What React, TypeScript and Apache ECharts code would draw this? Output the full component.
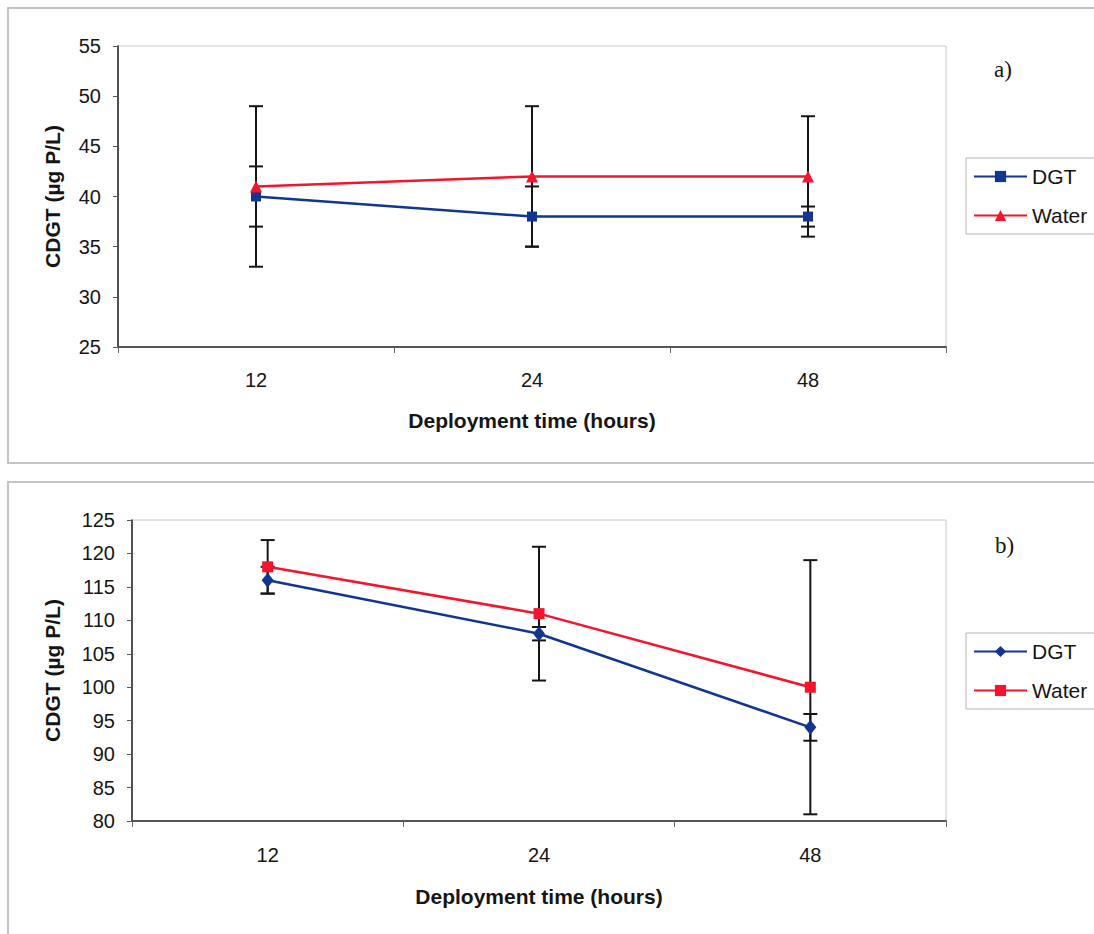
import React, { useEffect, useRef } from "react";
import * as echarts from "echarts";

const categories = ["12", "24", "48"];
const aDgt = [40, 38, 38];
const aDgtErr = [3, 3, 1];
const aWater = [41, 42, 42];
const aWaterErr = [8, 7, 6];
const bDgt = [116, 108, 94];
const bDgtErr = [2, 1, 2];
const bWater = [118, 111, 100];
const bWaterErr = [4, 10, 19];
const seriesNames = ["DGT", "Water"];
const yTitle = "CDGT (µg P/L)";
const xTitle = "Deployment time (hours)";

const NAVY = "#12358f";
const RED = "#f5142d";
const FONT = "'Liberation Sans', Arial, sans-serif";

function errData(vals: number[], errs: number[]) {
  return vals.map((v, i) => [i, v - errs[i], v + errs[i]]);
}

function errRender(params: any, api: any) {
  const i = api.value(0);
  const lo = api.coord([i, api.value(1)]);
  const hi = api.coord([i, api.value(2)]);
  const w = 7;
  const style = { stroke: "#151515", lineWidth: 2 };
  return {
    type: "group",
    children: [
      { type: "line", shape: { x1: lo[0], y1: lo[1], x2: hi[0], y2: hi[1] }, style },
      { type: "line", shape: { x1: lo[0] - w, y1: lo[1], x2: lo[0] + w, y2: lo[1] }, style },
      { type: "line", shape: { x1: hi[0] - w, y1: hi[1], x2: hi[0] + w, y2: hi[1] }, style },
    ],
  };
}

export default function App() {
  const ref = useRef<HTMLDivElement>(null);
  useEffect(() => {
    if (!ref.current) return;
    const chart = echarts.init(ref.current, null, { renderer: "svg" });
    const xAxisBase = (gridIndex: number, nameGap: number, labelMargin: number) => ({
      type: "category",
      gridIndex,
      data: categories,
      boundaryGap: true,
      name: xTitle,
      nameLocation: "middle",
      nameGap,
      nameTextStyle: { fontFamily: FONT, fontSize: 21, fontWeight: "bold", color: "#151515" },
      axisLine: { show: true, lineStyle: { color: "#555", width: 2 } },
      axisTick: { show: true, interval: 0, length: 6, lineStyle: { color: "#666", width: 1 } },
      axisLabel: { fontFamily: FONT, fontSize: 20, color: "#151515", margin: labelMargin },
      splitLine: { show: false },
    });
    const yAxisBase = (gridIndex: number, min: number, max: number, nameGap: number) => ({
      type: "value",
      gridIndex,
      min,
      max,
      interval: 5,
      name: yTitle,
      nameLocation: "middle",
      nameGap,
      nameRotate: 90,
      nameTextStyle: { fontFamily: FONT, fontSize: 21, fontWeight: "bold", color: "#151515" },
      axisLine: { show: true, lineStyle: { color: "#222", width: 1.5 } },
      axisTick: { show: true, length: 5, inside: false, lineStyle: { color: "#555", width: 1 } },
      axisLabel: { fontFamily: FONT, fontSize: 20, color: "#151515", margin: 17 },
      splitLine: { show: false },
    });
    const legendBase = (top: number) => ({
      orient: "vertical",
      left: 966,
      top,
      itemWidth: 53,
      itemHeight: 14,
      itemGap: 18,
      padding: [8, 12, 8, 7],
      borderColor: "#b4b4b4",
      borderWidth: 1,
      textStyle: { fontFamily: FONT, fontSize: 21, color: "#151515" },
    });
    const option: any = {
      animation: false,
      backgroundColor: "#fff",
      grid: [
        { left: 118, top: 46, width: 828, height: 301, show: true, borderColor: "#c8c8c8", borderWidth: 1, backgroundColor: "transparent" },
        { left: 132, top: 520, width: 814, height: 301, show: true, borderColor: "#c8c8c8", borderWidth: 1, backgroundColor: "transparent" },
      ],
      xAxis: [xAxisBase(0, 63, 23), xAxisBase(1, 65, 24)],
      yAxis: [yAxisBase(0, 25, 55, 55), yAxisBase(1, 80, 125, 69)],
      legend: [
        { ...legendBase(158), data: seriesNames.map((n) => ({ name: n })) },
        { ...legendBase(633), data: seriesNames.map((n) => ({ name: n + " " })) },
      ],
      graphic: [
        { type: "rect", shape: { x: 8, y: 8, width: 1200, height: 455 }, style: { fill: "none", stroke: "#c4c4c4", lineWidth: 2 }, z: -1 },
        { type: "rect", shape: { x: 8, y: 482, width: 1200, height: 500 }, style: { fill: "none", stroke: "#c4c4c4", lineWidth: 2 }, z: -1 },
        { type: "text", left: 994, top: 58, style: { text: "a)", font: "23px 'Liberation Serif', 'Times New Roman', serif", fill: "#151515" } },
        { type: "text", left: 995, top: 534, style: { text: "b)", font: "23px 'Liberation Serif', 'Times New Roman', serif", fill: "#151515" } },
      ],
      series: [
        { type: "custom", name: "errA1", xAxisIndex: 0, yAxisIndex: 0, renderItem: errRender, data: errData(aWater, aWaterErr), z: 1, silent: true },
        { type: "custom", name: "errA2", xAxisIndex: 0, yAxisIndex: 0, renderItem: errRender, data: errData(aDgt, aDgtErr), z: 1, silent: true },
        {
          type: "line", name: seriesNames[0], xAxisIndex: 0, yAxisIndex: 0, data: aDgt,
          symbol: "rect", symbolSize: 10, itemStyle: { color: NAVY }, lineStyle: { color: NAVY, width: 2.5 }, z: 3,
        },
        {
          type: "line", name: seriesNames[1], xAxisIndex: 0, yAxisIndex: 0, data: aWater,
          symbol: "triangle", symbolSize: 12, itemStyle: { color: RED }, lineStyle: { color: RED, width: 2.5 }, z: 3,
        },
        { type: "custom", name: "errB1", xAxisIndex: 1, yAxisIndex: 1, renderItem: errRender, data: errData(bWater, bWaterErr), z: 1, silent: true },
        { type: "custom", name: "errB2", xAxisIndex: 1, yAxisIndex: 1, renderItem: errRender, data: errData(bDgt, bDgtErr), z: 1, silent: true },
        {
          type: "line", name: seriesNames[0] + " ", xAxisIndex: 1, yAxisIndex: 1, data: bDgt,
          symbol: "diamond", symbolSize: [12, 15], itemStyle: { color: NAVY }, lineStyle: { color: NAVY, width: 2.5 }, z: 3,
        },
        {
          type: "line", name: seriesNames[1] + " ", xAxisIndex: 1, yAxisIndex: 1, data: bWater,
          symbol: "rect", symbolSize: 11, itemStyle: { color: RED }, lineStyle: { color: RED, width: 2.5 }, z: 3,
        },
      ],
    };
    chart.setOption(option);
    return () => chart.dispose();
  }, []);
  return (
    <div
      ref={ref}
      style={{ position: "absolute", left: 0, top: 0, width: 1094, height: 934, background: "#fff" }}
    />
  );
}
